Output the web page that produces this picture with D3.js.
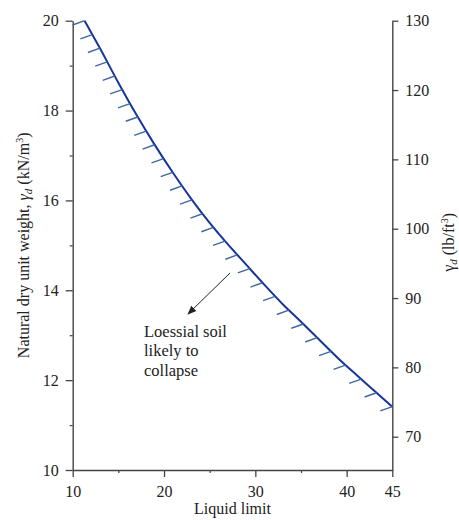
<!DOCTYPE html>
<html>
<head>
<meta charset="utf-8">
<script src="https://cdn.jsdelivr.net/npm/d3@7"></script>
<style>
  html, body { margin: 0; padding: 0; background: #fff; }
  svg { display: block; }
  text { font-family: "Liberation Serif", "Times New Roman", serif; fill: #222; }
</style>
</head>
<body>
<svg id="chart" width="459" height="520"></svg>
<script>
// ---- data ----
const liquidLimit = [11.3, 13, 15, 17, 19, 21, 23, 25, 27, 29, 31, 33, 35, 37, 39, 41, 43, 45];
const dryUnitWeight = [20.00, 19.38, 18.62, 17.90, 17.23, 16.61, 16.03, 15.50, 15.02, 14.57, 14.12, 13.69, 13.30, 12.90, 12.50, 12.13, 11.77, 11.41];
const xTicks = [10, 20, 30, 40, 45];
const xMinorTicks = [15, 25, 35];
const yTicks = [10, 12, 14, 16, 18, 20];
const yMinorTicks = [11, 13, 15, 17, 19];
const yRightTicks = [70, 80, 90, 100, 110, 120, 130];
const annotationLines = ["Loessial soil", "likely to", "collapse"];

(function () {
// ---- layout ----
const mLeft = 72.7, mRight = 392.3, mTop = 20.7, mBottom = 470;
const svg = d3.select("#chart");

const x = d3.scaleLinear().domain([10, 45]).range([mLeft, mRight]);
const y = d3.scaleLinear().domain([10, 20]).range([mBottom, mTop]);
const yR = d3.scaleLinear().domain([65.2, 130]).range([mBottom, mTop]);

const axisColor = "#444";
const fontSize = 16;

function styleAxis(g) {
  g.select(".domain").attr("stroke", axisColor).attr("stroke-width", 1.4);
  g.selectAll(".tick line").attr("stroke", axisColor).attr("stroke-width", 1.3);
  g.selectAll(".tick text").attr("font-size", fontSize).attr("fill", "#222")
    .attr("font-family", '"Liberation Serif", "Times New Roman", serif');
}

// minor ticks first
svg.append("g").attr("transform", `translate(0,${mBottom})`)
  .call(d3.axisBottom(x).tickValues(xMinorTicks).tickSize(3).tickFormat(""))
  .call(g => { g.select(".domain").remove(); g.selectAll(".tick line").attr("stroke", axisColor).attr("stroke-width", 1.2); });
svg.append("g").attr("transform", `translate(${mLeft},0)`)
  .call(d3.axisLeft(y).tickValues(yMinorTicks).tickSize(3).tickFormat(""))
  .call(g => { g.select(".domain").remove(); g.selectAll(".tick line").attr("stroke", axisColor).attr("stroke-width", 1.2); });

// major axes
svg.append("g").attr("transform", `translate(0,${mBottom})`)
  .call(d3.axisBottom(x).tickValues(xTicks).tickSize(7).tickSizeOuter(0).tickPadding(9).tickFormat(d3.format("d")))
  .call(styleAxis);
svg.append("g").attr("transform", `translate(${mLeft},0)`)
  .call(d3.axisLeft(y).tickValues(yTicks).tickSize(7).tickSizeOuter(0).tickPadding(7).tickFormat(d3.format("d")))
  .call(styleAxis);
svg.append("g").attr("transform", `translate(${mRight},0)`)
  .call(d3.axisRight(yR).tickValues(yRightTicks).tickSize(6).tickSizeOuter(0).tickPadding(7).tickFormat(d3.format("d")))
  .call(styleAxis);

// axis titles
svg.append("text")
  .attr("x", (mLeft + mRight) / 2).attr("y", 514)
  .attr("text-anchor", "middle").attr("font-size", fontSize)
  .text("Liquid limit");

const yl = svg.append("text")
  .attr("transform", `translate(29,${(mTop + mBottom) / 2}) rotate(-90)`)
  .attr("text-anchor", "middle").attr("font-size", fontSize);
yl.append("tspan").text("Natural dry unit weight, ");
yl.append("tspan").attr("font-style", "italic").text("γ");
yl.append("tspan").attr("font-style", "italic").attr("font-size", 11).attr("dy", 3).text("d");
yl.append("tspan").attr("dy", -3).text(" (kN/m");
yl.append("tspan").attr("font-size", 10).attr("dy", -6).text("3");
yl.append("tspan").attr("dy", 6).text(")");

const yr = svg.append("text")
  .attr("transform", `translate(454,${(mTop + mBottom) / 2 - 3}) rotate(-90)`)
  .attr("text-anchor", "middle").attr("font-size", fontSize);
yr.append("tspan").text("γ");
yr.append("tspan").attr("font-style", "italic").attr("font-size", 11).attr("dy", 3).text("d");
yr.append("tspan").attr("dy", -3).text(" (lb/ft");
yr.append("tspan").attr("font-size", 10).attr("dy", -6).text("3");
yr.append("tspan").attr("dy", 6).text(")");

// curve
const pts = liquidLimit.map((d, i) => [d, dryUnitWeight[i]]);
const line = d3.line().x(d => x(d[0])).y(d => y(d[1])).curve(d3.curveMonotoneX);
const path = svg.append("path")
  .attr("d", line(pts))
  .attr("fill", "none").attr("stroke", "#16359a").attr("stroke-width", 2);

// hatches along curve (equal vertical spacing)
const node = path.node();
const total = node.getTotalLength();
const samples = d3.range(0, total + 0.5, 0.5).map(l => node.getPointAtLength(Math.min(l, total)));
const yStart = samples[0].y, yEnd = samples[samples.length - 1].y;
const nH = 28;
const hatchY = d3.range(nH + 1).map(i => yStart + (yEnd - yStart) * i / nH);
const hatchPts = hatchY.map(hy => samples.reduce((a, b) => Math.abs(b.y - hy) < Math.abs(a.y - hy) ? b : a));
svg.append("g").selectAll("line").data(hatchPts).join("line")
  .attr("x1", d => d.x).attr("y1", d => d.y)
  .attr("x2", d => d.x - 12).attr("y2", d => d.y + 4.3)
  .attr("stroke", "#3f66a3").attr("stroke-width", 1.4);

// annotation arrow
svg.append("defs").append("marker")
  .attr("id", "ah").attr("viewBox", "0 0 10 10").attr("refX", 9).attr("refY", 5)
  .attr("markerWidth", 9).attr("markerHeight", 9).attr("orient", "auto")
  .attr("markerUnits", "userSpaceOnUse")
  .append("path").attr("d", "M0,1 L10,5 L0,9 z").attr("fill", "#222");
svg.append("line")
  .attr("x1", 230).attr("y1", 273).attr("x2", 188).attr("y2", 314)
  .attr("stroke", "#222").attr("stroke-width", 1).attr("marker-end", "url(#ah)");

svg.append("g").selectAll("text").data(annotationLines).join("text")
  .attr("x", 144).attr("y", (d, i) => 336.7 + i * 19.4)
  .attr("font-size", 16.5)
  .text(d => d);
})();
</script>
</body>
</html>
